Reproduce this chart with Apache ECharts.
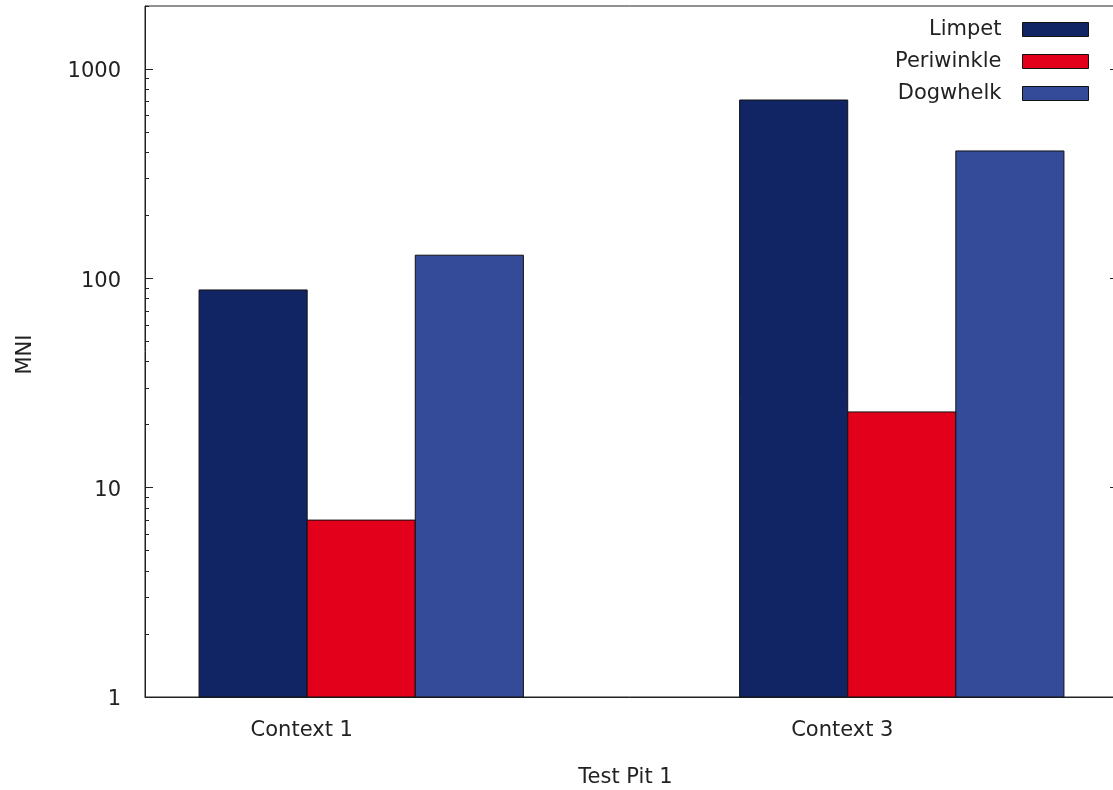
<!DOCTYPE html>
<html>
<head>
<meta charset="utf-8">
<script src="https://cdn.jsdelivr.net/npm/echarts@6/dist/echarts.min.js"></script>
<style>
html,body{margin:0;padding:0;background:#fff;}
#chart{width:1113px;height:790px;}
</style>
</head>
<body>
<div id="chart"></div>
<script>
// ---- data ----
const categories = ['Context 1', 'Context 3'];
const seriesNames = ['Limpet', 'Periwinkle', 'Dogwhelk'];
const limpet = [88, 711];
const periwinkle = [7, 23];
const dogwhelk = [129, 406];
const yMajorTicks = [1, 10, 100, 1000];
const yMinorTicks = [2,3,4,5,6,7,8,9,20,30,40,50,60,70,80,90,200,300,400,500,600,700,800,900,2000];
const colors = ['#112565', '#e2001a', '#334b98'];

// layout in "bar slot" units: 3 bars per cluster, gap of 2 slots
const barsPerGroup = 3, groupGap = 2;
const groupStride = barsPerGroup + groupGap;
const xMax = categories.length * groupStride - groupGap + 1; // 9
function barCenter(cat, s) { return 1 + s + cat * groupStride; }
const labelPos = categories.map((c, i) => barCenter(i, 0) + 0.45);

const values = [limpet, periwinkle, dogwhelk];
const FONT = 'DejaVu Sans';
const TXT = '#222';
const FS = 21;

const chart = echarts.init(document.getElementById('chart'), null, {renderer: 'canvas'});

const series = seriesNames.map((name, s) => ({
  name: name,
  type: 'custom',
  xAxisIndex: 0,
  yAxisIndex: 0,
  itemStyle: {color: colors[s], borderColor: '#000', borderWidth: 1},
  data: values[s].map((v, c) => [barCenter(c, s), v]),
  renderItem: function (params, api) {
    const x = api.value(0), y = api.value(1);
    const p0 = api.coord([x - 0.5, y]);
    const p1 = api.coord([x + 0.5, 1]);
    return {
      type: 'rect',
      shape: {x: p0[0], y: p0[1], width: p1[0] - p0[0], height: p1[1] - p0[1]},
      style: {fill: colors[s], stroke: '#111', lineWidth: 1}
    };
  }
}));

const logBase = {type: 'log', logBase: 10, min: 1, max: 2000, splitLine: {show: false}};

chart.setOption({
  animation: false,
  backgroundColor: '#fff',
  textStyle: {fontFamily: FONT},
  grid: {left: 145, top: 6, width: 973, bottom: 93, show: true, borderColor: '#222', borderWidth: 1,
         containLabel: false, outerBoundsMode: 'none'},
  legend: {
    orient: 'vertical',
    right: 19,
    top: 14,
    align: 'right',
    itemWidth: 66,
    itemHeight: 14,
    itemGap: 11,
    icon: 'rect',
    selectedMode: false,
    textStyle: {fontFamily: FONT, fontSize: FS, color: TXT, padding: [0, 16, 0, 0]},
    itemStyle: {borderColor: '#111', borderWidth: 1},
    data: seriesNames
  },
  xAxis: {
    type: 'value',
    min: 0,
    max: xMax,
    name: 'Test Pit 1',
    nameLocation: 'middle',
    nameGap: 70,
    nameTextStyle: {fontFamily: FONT, fontSize: FS, color: TXT, padding: [0, 12, 0, 0]},
    axisLine: {show: true, lineStyle: {color: '#222', width: 1}},
    axisTick: {show: false},
    splitLine: {show: false},
    axisLabel: {
      customValues: labelPos,
      formatter: function (v) {
        const i = labelPos.findIndex(p => Math.abs(p - v) < 1e-6);
        return i >= 0 ? categories[i] : '';
      },
      fontFamily: FONT, fontSize: FS, color: TXT, margin: 23
    }
  },
  yAxis: [
    Object.assign({}, logBase, {
      position: 'left',
      name: 'MNI',
      nameLocation: 'middle',
      nameGap: 109,
      nameRotate: 90,
      nameTextStyle: {fontFamily: FONT, fontSize: FS, color: TXT, padding: [0, 6, 0, 0]},
      axisLine: {show: true, lineStyle: {color: '#222', width: 1}},
      axisTick: {show: true, inside: true, length: 8, customValues: yMajorTicks, lineStyle: {color: '#222'}},
      axisLabel: {customValues: yMajorTicks, formatter: v => String(Math.round(v)),
        fontFamily: FONT, fontSize: FS, color: TXT, margin: 24, verticalAlign: 'top', lineHeight: 6}
    }),
    Object.assign({}, logBase, {
      position: 'left',
      axisLine: {show: false},
      axisTick: {show: true, inside: true, length: 4, customValues: yMinorTicks, lineStyle: {color: '#222'}},
      axisLabel: {show: false}
    }),
    Object.assign({}, logBase, {
      position: 'right',
      axisLine: {show: true, lineStyle: {color: '#222', width: 1}},
      axisTick: {show: true, inside: true, length: 8, customValues: yMajorTicks, lineStyle: {color: '#222'}},
      axisLabel: {show: false}
    })
  ],
  series: series
});
</script>
</body>
</html>
